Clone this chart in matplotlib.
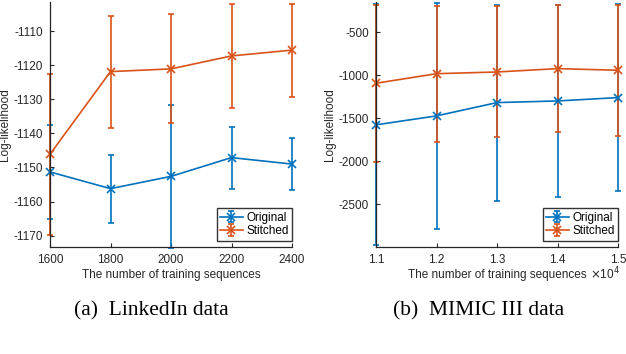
import numpy as np
import matplotlib.pyplot as plt
from matplotlib.ticker import FuncFormatter

# LinkedIn data (left panel)
li_x = [1600, 1800, 2000, 2200, 2400]
li_orig = [-1151.3, -1156.2, -1152.6, -1147.1, -1149.0]
li_orig_err = [13.7, 10.0, 21.0, 9.1, 7.7]
li_stit = [-1146.1, -1121.9, -1121.1, -1117.3, -1115.6]
li_stit_err = [23.6, 16.4, 16.0, 15.2, 13.6]

# MIMIC III data (right panel)
mi_x = [11000, 12000, 13000, 14000, 15000]
mi_orig = [-1579, -1475, -1320, -1301, -1262]
mi_orig_err = [1400, 1310, 1140, 1120, 1083]
mi_stit = [-1095, -984, -964, -925, -944]
mi_stit_err = [914, 793, 762, 735, 763]

BLUE = "#0072BD"
ORANGE = "#D95319"
AXC = "#262626"

plt.rcParams['font.family'] = ['Liberation Sans', 'DejaVu Sans']
plt.rcParams['axes.unicode_minus'] = False

fig = plt.figure(figsize=(6.26, 3.54), dpi=100)
W, H = 626, 354


def make_ax(x0, x1):
    ax = fig.add_axes([x0 / W, 1 - 247 / H, (x1 - x0) / W, 245 / H])
    for s in ["top", "right"]:
        ax.spines[s].set_visible(False)
    for s in ["left", "bottom"]:
        ax.spines[s].set_color(AXC)
        ax.spines[s].set_linewidth(0.9)
    ax.tick_params(direction="in", length=3, width=0.8, colors=AXC,
                   labelsize=8.5, pad=5)
    return ax


def draw(ax, x, orig, oerr, stit, serr, ylab_x):
    for y, e, c, lab in [(orig, oerr, BLUE, "Original"), (stit, serr, ORANGE, "Stitched")]:
        line, caps, bars = ax.errorbar(x, y, yerr=e, color=c, marker="x", ms=6,
                                       mew=1.2, lw=1.2, capsize=2.2, capthick=1.0,
                                       elinewidth=1.2, label=lab)
        for a in [line, *caps, *bars]:
            a.set_clip_on(False)
    leg = ax.legend(loc="lower right", bbox_to_anchor=(1.0, 6 / 245),
                    fontsize=8.5, frameon=True, fancybox=False,
                    borderpad=0.3, handlelength=1.9, handletextpad=0.3,
                    labelspacing=0.15, borderaxespad=0.0)
    leg.get_frame().set_edgecolor("black")
    leg.get_frame().set_linewidth(1.0)
    ax.set_ylabel("Log-likelihood", fontsize=8.5, color=AXC)
    ax.yaxis.set_label_coords(ylab_x, 0.5)
    ax.set_xlabel("The number of training sequences", fontsize=8.5,
                  color=AXC, labelpad=2.5)


ax1 = make_ax(50, 292)
draw(ax1, li_x, li_orig, li_orig_err, li_stit, li_stit_err, (11 - 50) / 242)
ax1.set_xlim(1600, 2400)
ax1.set_ylim(-1173.3, -1101.5)
ax1.set_xticks(li_x)
ax1.set_yticks([-1170, -1160, -1150, -1140, -1130, -1120, -1110])

ax2 = make_ax(376, 618)
draw(ax2, mi_x, mi_orig, mi_orig_err, mi_stit, mi_stit_err, (336 - 376) / 242)
ax2.set_xlim(11000, 15000)
ax2.set_ylim(-3000, -150)
ax2.set_xticks(mi_x)
ax2.set_yticks([-2500, -2000, -1500, -1000, -500])
ax2.xaxis.set_major_formatter(FuncFormatter(lambda v, p: f"{v / 1e4:.1f}"))
fig.text(605 / W, 1 - 274 / H, r"$\times$10$^4$", fontsize=8.5, color=AXC,
         ha="center", va="center")

fig.text(151 / W, 1 - 311 / H, "(a)  LinkedIn data", fontsize=15.5,
         family="Liberation Serif", ha="center", va="center")
fig.text(479 / W, 1 - 311 / H, "(b)  MIMIC III data", fontsize=15.5,
         family="Liberation Serif", ha="center", va="center")

fig.savefig("out.png", dpi=100)
